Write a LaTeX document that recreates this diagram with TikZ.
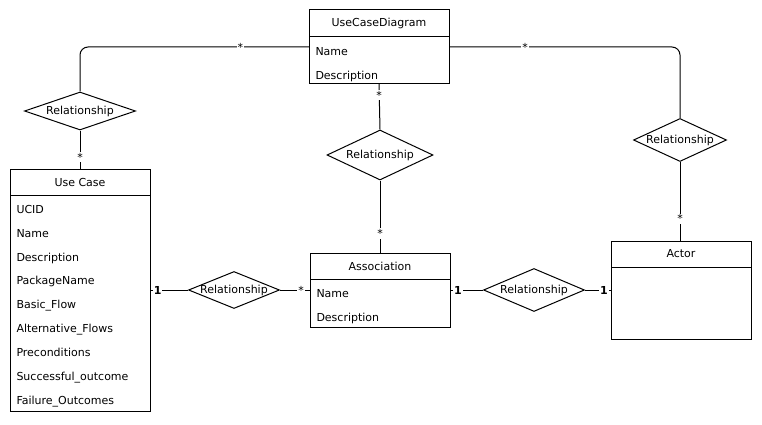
\documentclass[tikz,border=0pt]{standalone}
\usepackage{fontspec}
\setmainfont{DejaVu Sans}
\usetikzlibrary{positioning}
\usetikzlibrary{shapes.geometric}

\begin{document}
\begin{tikzpicture}[x=1pt,y=-1pt]
    \tikzstyle{every node}=[font=\fontsize{11}{13}\selectfont]
    \tikzstyle{every path}=[line width=1pt]
    \tikzstyle{head}=[draw=black,minimum width=140pt,minimum height=26pt,inner sep=0pt,outer sep=0pt]
    \tikzstyle{body}=[draw=black,minimum width=140pt,inner sep=0pt,outer sep=0pt]
    \tikzstyle{attr}=[anchor=west,inner sep=0pt,text height=8pt,text depth=2.5pt]
    \tikzstyle{rel}=[diamond,draw=black,inner sep=0pt,aspect=1]
    \tikzstyle{mult}=[fill=white,inner sep=1pt,sharp corners]
    \tikzstyle{one}=[mult,font=\fontsize{11}{13}\selectfont\bfseries]

    \path[use as bounding box] (0,0) rectangle (762,425);

    \node[head,minimum height=27pt] (ucd) at (379,23.5) {UseCaseDiagram} ;
    \node[body,below=0pt of ucd,minimum height=47pt] (ucdbody) {} ;

    \node[head] (uc) at (80,182) {Use Case} ;
    \node[body,below=0pt of uc,minimum height=216pt] (ucbody) {} ;

    \node[head] (assoc) at (380,266) {Association} ;
    \node[body,below=0pt of assoc,minimum height=48pt] (assocbody) {} ;

    \node[head] (actor) at (681,254) {Actor} ;
    \node[body,below=0pt of actor,minimum height=72pt] (actorbody) {} ;

    \newcommand{\attrlist}[2]{%
    \foreach \t [count=\i] in {#2}{%
      \pgfmathsetmacro\dy{15.5+23.9*(\i-1)}
      \node[attr] (#1-\i) at ([xshift=6pt,yshift=-\dy pt]#1.north west) {\t} ;}}

    \attrlist{ucdbody}{Name,Description}
    \attrlist{ucbody}{UCID,Name,Description,PackageName,Basic\_Flow,Alternative\_Flows,Preconditions,Successful\_outcome,Failure\_Outcomes}
    \attrlist{assocbody}{Name,Description}

    \node[rel,minimum width=111pt,minimum height=38pt] (rel1) at (80,111) {\makebox[0pt]{Relationship}} ;
    \node[rel,minimum width=106pt,minimum height=50pt] (rel2) at (380,155) {\makebox[0pt]{Relationship}} ;
    \node[rel,minimum width=93pt,minimum height=43pt] (rel3) at (680,140) {\makebox[0pt]{Relationship}} ;
    \node[rel,minimum width=91pt,minimum height=37pt] (rel4) at (234,290) {\makebox[0pt]{Relationship}} ;
    \node[rel,minimum width=101pt,minimum height=43pt] (rel5) at (534,290) {\makebox[0pt]{Relationship}} ;

    \draw[rounded corners=8pt] ([yshift=-10pt]ucdbody.north west) -| node[mult,pos=0.15] (m1) {*} (rel1.north) ;
    \draw[rounded corners=8pt] ([yshift=-10pt]ucdbody.north east) -| node[mult,pos=0.165] (m2) {*} (rel3.north) ;
    \draw (ucdbody.south) -- node[mult,pos=0.24] (m3) {*} (rel2.north) ;
    \draw (rel2.south) -- node[mult,pos=0.73] (m4) {*} (assoc.north) ;
    \draw (rel1.south) -- node[mult,pos=0.69] (m5) {*} (uc.north) ;
    \draw (rel3.south) -- node[mult,pos=0.72] (m6) {*} (rel3.south |- actor.north) ;
    \draw (ucbody.east |- rel4.west) -- node[one,pos=0.2] (m7) {1} (rel4.west) ;
    \draw (rel4.east) -- node[mult,pos=0.7] (m8) {*} (assocbody.west |- rel4.east) ;
    \draw (assocbody.east |- rel5.west) -- node[one,pos=0.24] (m9) {1} (rel5.west) ;
    \draw (rel5.east) -- node[one,pos=0.73] (m10) {1} (actorbody.west |- rel5.east) ;

  \end{tikzpicture}
\end{document}
